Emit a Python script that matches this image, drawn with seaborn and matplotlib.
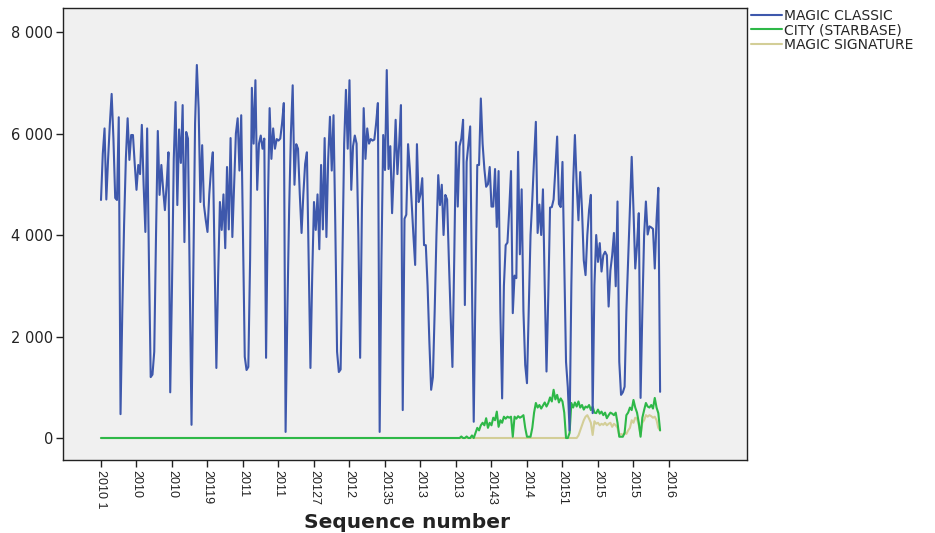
import numpy as np
import pandas as pd
import matplotlib
matplotlib.use("Agg")
import matplotlib.pyplot as plt
from matplotlib.ticker import FuncFormatter, FixedLocator
from matplotlib.lines import Line2D
import seaborn as sns

# Weekly unit counts per product line
magic_classic = [
    4690, 5600, 6100, 4700, 5500, 6200, 6780, 5900, 4730, 4690,
    6320, 470, 2500, 4200, 5500, 6300, 5480, 5970, 5970, 5400,
    4890, 5380, 5200, 6170, 5000, 4060, 6100, 3500, 1200, 1250,
    1700, 4000, 6050, 4790, 5380, 4900, 4490, 5000, 5630, 900,
    3000, 5500, 6620, 4590, 6080, 5420, 6560, 3860, 6030, 5900,
    3000, 260, 3200, 6200, 7350, 6500, 4650, 5770, 4590, 4300,
    4060, 4800, 5300, 5630, 3500, 1380, 3200, 4650, 4100, 4800,
    3740, 5340, 4110, 5910, 3960, 5000, 6000, 6300, 5270, 6360,
    4000, 1600, 1340, 1400, 3500, 6900, 5800, 7050, 4890, 5800,
    5960, 5700, 5900, 1580, 4500, 6500, 5500, 6100, 5700, 5890,
    5860, 5900, 6200, 6600, 120, 2500, 4500, 6000, 6950, 4990,
    5790, 5700, 4800, 4040, 4800, 5400, 5630, 3500, 1380, 3200,
    4650, 4100, 4800, 3720, 5380, 4110, 5910, 3960, 5500, 6330,
    5270, 6360, 4200, 1700, 1300, 1350, 3500, 5800, 6860, 5700,
    7050, 4890, 5750, 5960, 5800, 4000, 1580, 4500, 6500, 5500,
    6100, 5800, 5890, 5860, 5880, 6200, 6600, 120, 3500, 5970,
    5280, 7250, 5300, 5750, 4430, 5300, 6270, 5200, 5800, 6560,
    550, 4320, 4400, 5790, 5300, 4650, 4000, 3410, 5790, 4650,
    4800, 5120, 3800, 3800, 3000, 1900, 950, 1200, 2500, 4000,
    5180, 4590, 4990, 4000, 4790, 4700, 3500, 2400, 1400, 3500,
    5830, 4560, 5750, 5900, 6270, 2620, 5440, 5800, 6140, 3000,
    320, 3000, 5380, 5380, 6690, 5800, 5300, 4950, 5000, 5340,
    4560, 4560, 5300, 4160, 5260, 2500, 780, 3000, 3800, 3850,
    4500, 5260, 2460, 3200, 3150, 5640, 3620, 4900, 2500, 1440,
    1080, 2500, 4000, 4700, 5500, 6230, 4040, 4600, 4000, 4900,
    3000, 1310, 2800, 4540, 4550, 4700, 5300, 5940, 4610, 4550,
    5440, 3500, 1500, 1000, 150, 3000, 5000, 5970, 5000, 4290,
    5240, 4500, 3500, 3210, 4000, 4500, 4790, 490, 3000, 4000,
    3470, 3840, 3280, 3600, 3670, 3600, 2590, 3300, 3600, 4040,
    2990, 4660, 1500, 850, 900, 1010, 2500, 3500, 4500, 5540,
    4500, 3340, 3800, 4430, 790, 2500, 4000, 4660, 4010, 4170,
    4150, 4120, 3340, 4300, 4930, 910,
]

city_starbase = [0] * 203 + [
    30, 0, 0, 30, 0, 0, 50,
    0, 100, 200, 150, 250, 300, 250, 390, 200, 300,
    250, 400, 350, 520, 220, 350, 300, 420, 380, 420,
    400, 420, 25, 420, 380, 430, 400, 420, 450, 200,
    25, 25, 25, 200, 500, 690, 600, 650, 580, 640,
    700, 620, 690, 800, 720, 950, 760, 850, 700, 780,
    720, 500, 0, 0, 100, 690, 600, 700, 620, 720,
    600, 650, 560, 620, 600, 650, 550, 620, 500, 490,
    560, 480, 520, 450, 500, 390, 450, 500, 480, 450,
    500, 300, 25, 25, 25, 100, 450, 500, 600, 550,
    750, 600, 500, 300, 25, 400, 550, 690, 620, 600,
    650, 580, 790, 600, 490, 150,
]

magic_signature = [0] * 269 + [
    50,
    150, 250, 350, 420, 450, 380, 300, 60, 330, 280,
    300, 250, 280, 260, 300, 250, 280, 300, 220, 280,
    250, 200, 50, 80, 60, 100, 80, 150, 200, 350,
    300, 400, 380, 250, 60, 300, 350, 450, 420, 450,
    430, 400, 420, 350, 200, 150,
]

series_names = ["MAGIC CLASSIC", "CITY (STARBASE)", "MAGIC SIGNATURE"]
series_colors = ["#3e58ac", "#2eb848", "#d3ce97"]

tick_labels = ["2010 1", "2010", "2010", "20119", "2011", "2011", "20127",
               "2012", "20135", "2013", "2013", "20143", "2014", "20151",
               "2015", "2015", "2016"]
tick_step = 20

n = len(magic_classic)
seq = np.arange(n)
df = pd.DataFrame({
    "seq": np.tile(seq, 3),
    "value": magic_classic + city_starbase + magic_signature,
    "series": np.repeat(series_names, n),
})

sns.set_style("ticks")
plt.rcParams["font.family"] = ["DejaVu Sans"]

fig = plt.figure(figsize=(9.35, 5.33), dpi=100)
ax = fig.add_axes([0.0674, 0.137, 0.7316, 0.848])
ax.set_facecolor("#f0f0f0")

zorders = {"MAGIC CLASSIC": 3, "CITY (STARBASE)": 2.5, "MAGIC SIGNATURE": 2}
for name, color in zip(series_names, series_colors):
    sns.lineplot(data=df[df["series"] == name], x="seq", y="value",
                 color=color, linewidth=1.5, ax=ax, legend=False,
                 zorder=zorders[name])

ax.set_xlim(-21.4, 364)
ax.set_ylim(-433, 8473)

ax.xaxis.set_major_locator(FixedLocator(np.arange(len(tick_labels)) * tick_step))
ax.set_xticklabels(tick_labels, rotation=270, fontsize=9, va="top", ha="center",
                   family="Liberation Sans")
ax.set_yticks([0, 2000, 4000, 6000, 8000])
ax.yaxis.set_major_formatter(FuncFormatter(lambda v, p: f"{v:,.0f}".replace(",", " ")))
ax.tick_params(axis="both", direction="out", length=5, width=1, color="#222222",
               labelcolor="#222222", pad=2)
ax.tick_params(axis="y", labelsize=10.5)

for s in ax.spines.values():
    s.set_visible(True)
    s.set_color("#222222")
    s.set_linewidth(1.0)

ax.set_ylabel("")
ax.set_xlabel("")
fig.text(407 / 935, 1 - 522 / 533, "Sequence number", fontsize=14.5,
         fontweight="bold", color="#222222", ha="center", va="center")

handles = [Line2D([0], [0], color=c, lw=1.5) for c in series_colors]
fig.legend(handles, series_names, loc="upper left",
           bbox_to_anchor=(751 / 935, 1 - 9 / 533),
           frameon=False, fontsize=10, handlelength=2.2, handletextpad=0.15,
           labelspacing=0.02, borderaxespad=0, borderpad=0)

fig.savefig("out.png", dpi=100, facecolor="white")
